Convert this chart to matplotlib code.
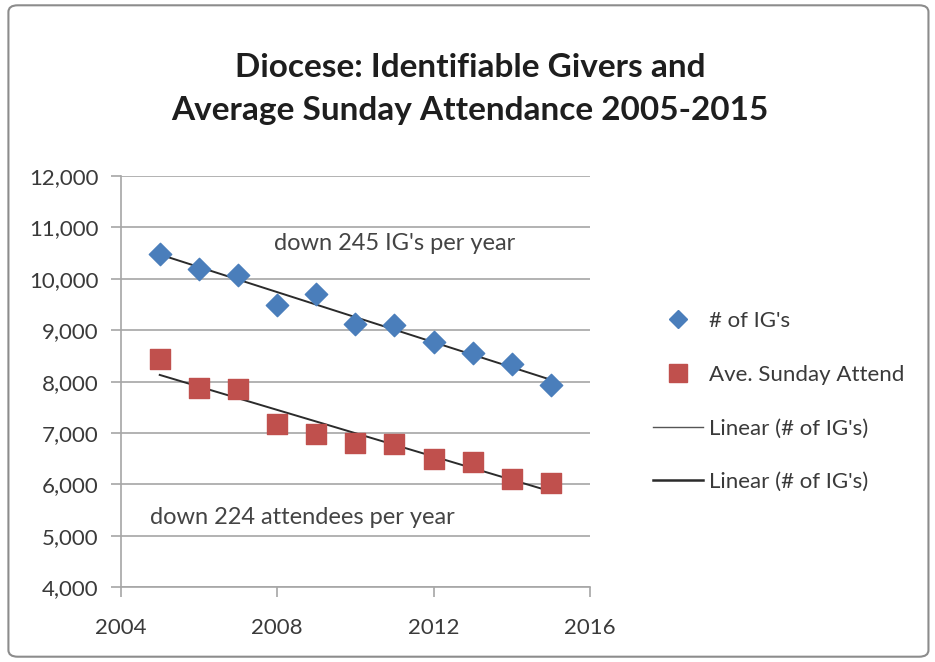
import numpy as np
import matplotlib.pyplot as plt
from matplotlib.patches import FancyBboxPatch
from matplotlib.lines import Line2D

# data
years = [2005, 2006, 2007, 2008, 2009, 2010, 2011, 2012, 2013, 2014, 2015]
givers = [10490, 10200, 10080, 9490, 9710, 9130, 9100, 8780, 8550, 8350, 7930]
attend = [8440, 7870, 7850, 7180, 6980, 6810, 6780, 6490, 6440, 6100, 6030]

title = "Diocese: Identifiable Givers and\nAverage Sunday Attendance 2005-2015"
note_givers = "down 245 IG's per year"
note_attend = "down 224 attendees per year"

plt.rcParams['font.family'] = ['Lato', 'DejaVu Sans']

fig = plt.figure(figsize=(9.35, 6.62), dpi=100)
fig.patch.set_facecolor('white')

# outer chart frame
frame = FancyBboxPatch((0.009, 0.008), 0.984, 0.984, boxstyle="round,pad=0,rounding_size=0.01",
                       transform=fig.transFigure, fill=False, edgecolor='#8c8c8c', linewidth=1.5)
fig.patches.append(frame)

ax = fig.add_axes([0.129, 0.113, 0.502, 0.621])

x = np.array(years)
# trend lines
for vals in (givers, attend):
    k, b = np.polyfit(x, vals, 1)
    ax.plot([x[0], x[-1]], [k * x[0] + b, k * x[-1] + b], color='#2b2b2b', lw=1.4, zorder=3)

ax.scatter(x, givers, marker='D', s=130, color='#4a7ebb', zorder=4)
ax.scatter(x, attend, marker='s', s=200, color='#c0504d', zorder=4)

ax.set_xlim(2004, 2016)
ax.set_ylim(4000, 12000)
ax.set_xticks([2004, 2008, 2012, 2016])
ax.set_yticks(np.arange(4000, 12001, 1000))
ax.yaxis.set_major_formatter(plt.FuncFormatter(lambda v, p: f"{int(v):,}"))
ax.grid(axis='y', color='#a6a6a6', lw=1.2)
ax.set_axisbelow(True)
for s in ('top', 'right'):
    ax.spines[s].set_visible(False)
for s in ('left', 'bottom'):
    ax.spines[s].set_color('#a6a6a6')
    ax.spines[s].set_linewidth(1.2)
ax.tick_params(colors='#a6a6a6', length=7, width=1.2, labelcolor='#3a3a3a', labelsize=16, pad=9)
ax.tick_params(axis='x', pad=15)

ax.text(2011.0, 10680, note_givers, ha='center', va='center', fontsize=17, color='#444444')
ax.text(2004.74, 5360, note_attend, ha='left', va='center', fontsize=17, color='#444444')

fig.text(0.503, 0.866, title, ha='center', va='center', fontsize=24, fontweight='bold',
         color='#1e1e1e', linespacing=1.6)

handles = [
    Line2D([], [], marker='D', ls='none', color='#4a7ebb', markersize=9),
    Line2D([], [], marker='s', ls='none', color='#c0504d', markersize=13),
    Line2D([], [], color='#555555', lw=1),
    Line2D([], [], color='#2b2b2b', lw=1.8),
]
labels = ["# of IG's", "Ave. Sunday Attend", "Linear (# of IG's)", "Linear (# of IG's)"]
fig.legend(handles, labels, loc='center left', bbox_to_anchor=(0.677, 0.3935), frameon=False,
           fontsize=16, labelcolor='#3a3a3a', labelspacing=1.52, handlelength=2.25, handletextpad=0.25)

fig.savefig('out.png', dpi=100)
